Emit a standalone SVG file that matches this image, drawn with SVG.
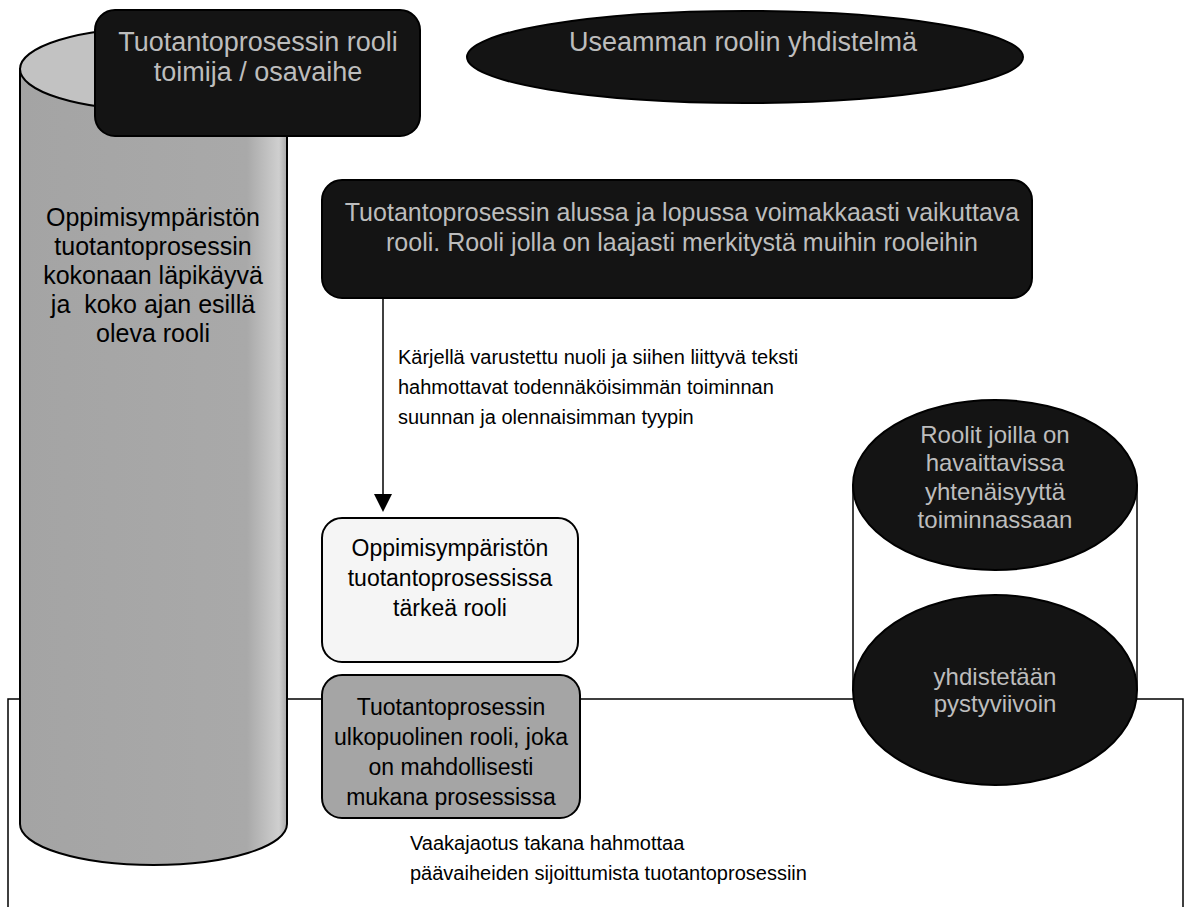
<svg xmlns="http://www.w3.org/2000/svg" width="1191" height="907" viewBox="0 0 1191 907">
  <style>
    .ink { stroke: #000; stroke-width: 2; }
    .dark { fill: #141414; stroke: #000; stroke-width: 2; }
    .t { font-family: "Liberation Sans", Arial, sans-serif; font-size: 20px; fill: #000; }
    .c { text-anchor: middle; }
    .lt { fill: #bdbdbd; }
    .f23 { font-size: 23px; }
    .f24 { font-size: 24px; }
    .f25 { font-size: 25px; }
    .f27 { font-size: 27px; }
    .line { fill: none; stroke: #000; stroke-width: 1.5; }
  </style>
  <defs>
    <linearGradient id="cylBody" x1="0" y1="0" x2="1" y2="0">
      <stop offset="0" stop-color="#a4a4a4"/>
      <stop offset="0.85" stop-color="#a9a9a9"/>
      <stop offset="0.97" stop-color="#cfcfcf"/>
      <stop offset="1" stop-color="#a9a9a9"/>
    </linearGradient>
  </defs>
  <rect width="1191" height="907" fill="#fff"/>

  <!-- horizontal phase frame behind everything -->
  <g id="frame">
    <path class="line" d="M8,907 V699 H1183 V907"/>
  </g>

  <!-- tall cylinder on the left -->
  <g id="cylinder">
    <path class="ink" fill="url(#cylBody)" d="M20,69 V824 A133.5,41 0 0 0 287,824 V69 Z"/>
    <ellipse class="ink" cx="153.5" cy="69" rx="133.5" ry="41" fill="#c2c2c2"/>
    <text class="t c f25" x="153" y="226">Oppimisympäristön</text>
    <text class="t c f25" x="153" y="255">tuotantoprosessin</text>
    <text class="t c f25" x="153" y="284">kokonaan läpikäyvä</text>
    <text class="t c f25" x="153" y="313" xml:space="preserve">ja  koko ajan esillä</text>
    <text class="t c f25" x="153" y="342">oleva rooli</text>
  </g>

  <!-- dark box: role / actor / phase -->
  <g id="role-box">
    <rect class="dark" x="95" y="10" width="325" height="126" rx="20"/>
    <text class="t c lt f27" x="258" y="51">Tuotantoprosessin rooli</text>
    <text class="t c lt f27" x="258" y="81">toimija / osavaihe</text>
  </g>

  <!-- dark ellipse: combined roles -->
  <g id="combined">
    <ellipse class="dark" cx="745" cy="57" rx="278" ry="46"/>
    <text class="t c lt f27" x="743" y="51">Useamman roolin yhdistelmä</text>
  </g>

  <!-- wide dark box -->
  <g id="start-end">
    <rect class="dark" x="322" y="180" width="710" height="118" rx="20"/>
    <text class="t c lt f25" x="682" y="221">Tuotantoprosessin alussa ja lopussa voimakkaasti vaikuttava</text>
    <text class="t c lt f25" x="682" y="251">rooli. Rooli jolla on laajasti merkitystä muihin rooleihin</text>
  </g>

  <!-- connectors -->
  <g id="connectors">
    <line class="line" x1="383" y1="298" x2="383" y2="495"/>
    <polygon points="374,494 392,494 383,512" fill="#000"/>
  </g>

  <g id="arrow-note">
    <text class="t" x="398" y="364">Kärjellä varustettu nuoli ja siihen liittyvä teksti</text>
    <text class="t" x="398" y="394">hahmottavat todennäköisimmän toiminnan</text>
    <text class="t" x="398" y="424">suunnan ja olennaisimman tyypin</text>
  </g>

  <!-- light box: important role -->
  <g id="important">
    <rect class="ink" x="322" y="518" width="256" height="144" rx="20" fill="#f5f5f5"/>
    <text class="t c f23" x="450" y="556">Oppimisympäristön</text>
    <text class="t c f23" x="450" y="586">tuotantoprosessissa</text>
    <text class="t c f23" x="450" y="616">tärkeä rooli</text>
  </g>

  <!-- gray box: outside role -->
  <g id="outside">
    <rect class="ink" x="322" y="675" width="258" height="143" rx="20" fill="#a5a5a5"/>
    <text class="t c f23" x="451" y="715">Tuotantoprosessin</text>
    <text class="t c f23" x="451" y="745">ulkopuolinen rooli, joka</text>
    <text class="t c f23" x="451" y="775">on mahdollisesti</text>
    <text class="t c f23" x="451" y="805">mukana prosessissa</text>
  </g>

  <!-- two dark ellipses joined by vertical lines -->
  <g id="joined">
    <line class="line" x1="853" y1="485" x2="853" y2="690"/>
    <line class="line" x1="1137" y1="485" x2="1137" y2="690"/>
    <ellipse class="dark" cx="995" cy="485" rx="142" ry="85"/>
    <text class="t c lt f24" x="995" y="443">Roolit joilla on</text>
    <text class="t c lt f24" x="995" y="471">havaittavissa</text>
    <text class="t c lt f24" x="995" y="500">yhtenäisyyttä</text>
    <text class="t c lt f24" x="995" y="528">toiminnassaan</text>
    <ellipse class="dark" cx="995" cy="690" rx="142" ry="95"/>
    <text class="t c lt f24" x="995" y="685">yhdistetään</text>
    <text class="t c lt f24" x="995" y="712">pystyviivoin</text>
  </g>

  <g id="frame-note">
    <text class="t" x="410" y="850">Vaakajaotus takana hahmottaa</text>
    <text class="t" x="410" y="880">päävaiheiden sijoittumista tuotantoprosessiin</text>
  </g>
</svg>
